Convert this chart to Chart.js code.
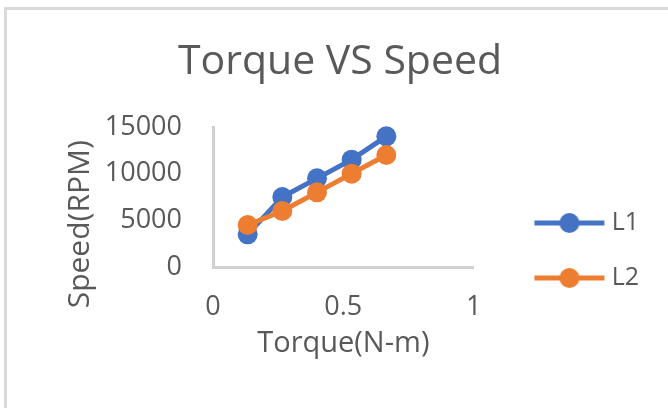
<!DOCTYPE html>
<html><head><meta charset="utf-8">
<script src="https://cdn.jsdelivr.net/npm/chart.js@4/dist/chart.umd.min.js"></script>
<style>
html,body{margin:0;padding:0;background:#fff;}
#wrap{position:relative;width:668px;height:408px;overflow:hidden;}
#frame{position:absolute;left:4px;top:7px;right:-10px;bottom:-10px;border-top:3px solid #d9d9d9;border-left:3px solid #d9d9d9;pointer-events:none;}
canvas{position:absolute;left:0;top:0;}
</style></head><body>
<div id="wrap"><canvas id="c" width="668" height="408"></canvas><div id="frame"></div></div>
<script>
const chartTitle = 'Torque VS Speed';
const xAxisTitle = 'Torque(N-m)';
const yAxisTitle = 'Speed(RPM)';
const seriesNames = ['L1', 'L2'];
const torque = [0.133, 0.266, 0.399, 0.532, 0.665];
const speedL1 = [3500, 7500, 9500, 11500, 14000];
const speedL2 = [4500, 6000, 8000, 10000, 12000];
const xTickValues = [0, 0.5, 1];
const yTickValues = [0, 5000, 10000, 15000];
const seriesColors = ['#4472C4', '#ED7D31'];

const FAMILY = '"Open Sans", "Noto Sans", sans-serif';
const TEXT = '#595959';

function makeGlyph(color) {
  const c = document.createElement('canvas');
  c.width = 110; c.height = 26;
  const g = c.getContext('2d');
  g.strokeStyle = color; g.lineWidth = 5;
  g.beginPath(); g.moveTo(38, 13); g.lineTo(108, 13); g.stroke();
  g.fillStyle = color;
  g.beginPath(); g.arc(73, 13, 10, 0, Math.PI * 2); g.fill();
  return c;
}
const glyphs = seriesColors.map(makeGlyph);

function ds(label, ys, color, order) {
  return {
    label: label,
    data: torque.map((x, i) => ({x: x, y: ys[i]})),
    borderColor: color, backgroundColor: color,
    pointBackgroundColor: color, pointBorderColor: color,
    borderWidth: 5, pointRadius: 10, pointBorderWidth: 0,
    tension: 0, order: order, clip: false
  };
}

new Chart(document.getElementById('c'), {
  type: 'line',
  data: { datasets: [ds(seriesNames[0], speedL1, seriesColors[0], 1), ds(seriesNames[1], speedL2, seriesColors[1], 0)] },
  options: {
    responsive: false, animation: false, devicePixelRatio: 1, events: [],
    layout: { padding: { left: 31, right: 19, top: 0, bottom: 0 } },
    plugins: {
      tooltip: { enabled: false },
      title: { display: true, text: chartTitle, color: TEXT,
        font: { size: 41, weight: 'normal', family: FAMILY },
        padding: { top: 37.4, bottom: 40.4 } },
      legend: {
        position: 'right', align: 'center', maxWidth: 400,
        title: { display: true, text: ' ', font: { size: 10, family: FAMILY }, padding: { top: 81, bottom: 0 } },
        labels: {
          usePointStyle: true, pointStyleWidth: 95.5, padding: 30, color: TEXT,
          font: { size: 25, family: FAMILY },
          generateLabels: chart => chart.data.datasets.map((d, i) => ({
            text: d.label, fillStyle: d.borderColor, strokeStyle: d.borderColor,
            lineWidth: 0, pointStyle: glyphs[i], hidden: false, datasetIndex: i, fontColor: TEXT
          }))
        }
      }
    },
    scales: {
      x: {
        type: 'linear', min: 0, max: 1,
        afterBuildTicks: s => { s.ticks = xTickValues.map(v => ({ value: v })); },
        afterFit: s => { s.height = 141; },
        ticks: { color: TEXT, padding: 24, font: { size: 27, family: FAMILY }, callback: v => String(v) },
        grid: { display: true, color: 'rgba(0,0,0,0)', drawTicks: false },
        border: { display: true, color: '#d0d0d0', width: 3 },
        title: { display: true, text: xAxisTitle, color: TEXT, font: { size: 29, family: FAMILY }, padding: { top: 0, bottom: 46.6 } }
      },
      y: {
        type: 'linear', min: 0, max: 15000,
        afterBuildTicks: s => { s.ticks = yTickValues.map(v => ({ value: v })); },
        afterFit: s => { s.width = 182; },
        ticks: { color: TEXT, padding: 31, font: { size: 27, family: FAMILY }, callback: v => String(v) },
        grid: { display: true, color: 'rgba(0,0,0,0)', drawTicks: false },
        border: { display: true, color: '#d0d0d0', width: 3 },
        title: { display: true, text: yAxisTitle + '\u00a0\u00a0\u00a0\u00a0\u00a0\u00a0\u00a0', color: TEXT, font: { size: 30, family: FAMILY }, padding: { top: 31, bottom: 0 } }
      }
    }
  }
});
</script>
</body></html>
